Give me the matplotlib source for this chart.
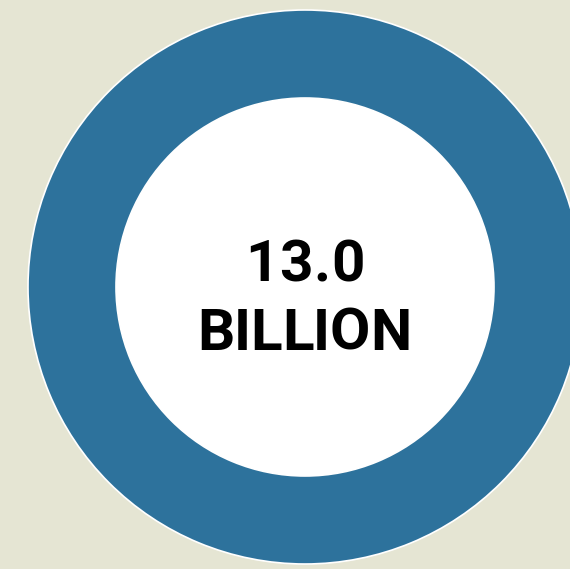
import matplotlib
matplotlib.use("Agg")
import matplotlib.pyplot as plt
from matplotlib.patches import Circle
from matplotlib import font_manager

# Data
values = [13.0]
value_label = "13.0"
unit_label = "BILLION"

BG = "#E5E5D3"
BLUE = "#2D729C"

W, H = 570, 569
fig = plt.figure(figsize=(W / 100, H / 100), dpi=100, facecolor=BG)
ax = fig.add_axes([0, 0, 1, 1])
ax.set_facecolor(BG)

cx, cy = 305, H - 287
outer_r, inner_r = 277, 189

ax.pie(values, colors=[BLUE], radius=outer_r, center=(cx, cy),
       startangle=90, counterclock=False,
       wedgeprops=dict(width=outer_r - inner_r, edgecolor="white", linewidth=1.2))
ax.add_patch(Circle((cx, cy), inner_r, facecolor="white", edgecolor="none", zorder=3))

ax.set_xlim(0, W)
ax.set_ylim(0, H)
ax.set_aspect("equal")
ax.axis("off")


def pick_family(names):
    for n in names:
        try:
            font_manager.findfont(font_manager.FontProperties(family=n, weight="bold"),
                                  fallback_to_default=False)
            return n
        except Exception:
            continue
    return "DejaVu Sans"


FAMILY = pick_family(["Liberation Sans Narrow", "Roboto", "DejaVu Sans"])
renderer = fig.canvas.get_renderer()


def tracked_text(s, x_center, y_base, width, size):
    """Draw a string with even letter spacing so it spans the given width."""
    parts = []
    for ch in s:
        t = ax.text(0, y_base, ch, ha="left", va="baseline", fontsize=size,
                    fontweight="bold", family=FAMILY, color="black", zorder=4)
        bb = t.get_window_extent(renderer)
        parts.append((t, bb.width))
    natural = sum(w for _, w in parts)
    gap = (width - natural) / max(len(parts) - 1, 1)
    x = x_center - width / 2
    for t, w in parts:
        t.set_x(x)
        x += w + gap


tracked_text(value_label, 305, H - 281, 120, 42)
tracked_text(unit_label, 304, H - 350, 214, 42)

fig.savefig("out.png", dpi=100, facecolor=BG)
